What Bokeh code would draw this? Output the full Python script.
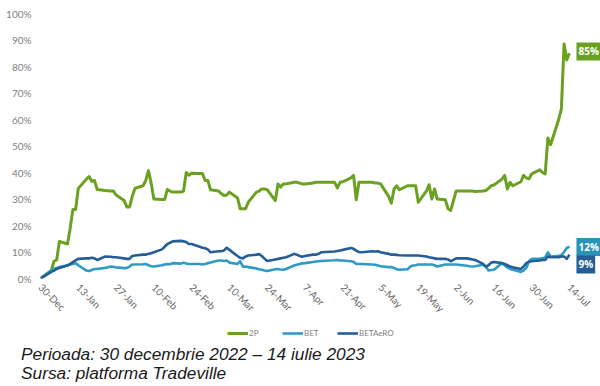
import math
import pandas as pd
from bokeh.plotting import figure
from bokeh.layouts import column
from bokeh.models import (Range1d, FixedTicker, PrintfTickFormatter, Label, Legend, LegendItem, Div)
from bokeh.embed import file_html
from bokeh.resources import INLINE

dates = (["2022-12-30"] +
         ["2023-01-%02d" % d for d in [3, 4, 5, 6, 9, 10, 11, 12, 13, 16, 17, 18, 19, 20, 23, 25, 26, 27, 30, 31]] +
         ["2023-02-%02d" % d for d in [1, 2, 3, 6, 7, 8, 9, 10, 13, 14, 15, 16, 17, 20, 21, 22, 23, 24, 27, 28]] +
         ["2023-03-%02d" % d for d in [1, 2, 3, 6, 7, 8, 9, 10, 13, 14, 15, 16, 17, 20, 21, 22, 23, 24, 27, 28, 29, 30, 31]] +
         ["2023-04-%02d" % d for d in [3, 4, 5, 6, 7, 10, 11, 12, 13, 18, 19, 20, 21, 24, 25, 26, 27, 28]] +
         ["2023-05-%02d" % d for d in [2, 3, 4, 5, 8, 9, 10, 11, 12, 15, 16, 17, 18, 19, 22, 23, 24, 25, 26, 29, 30, 31]] +
         ["2023-06-%02d" % d for d in [2, 6, 7, 8, 9, 12, 13, 14, 15, 16, 19, 20, 21, 22, 23, 26, 27, 28, 29, 30]] +
         ["2023-07-%02d" % d for d in [3, 4, 5, 6, 7, 10, 11, 12, 13, 14]])

p2 = ([0] +
      [3, 6.5, 7, 14, 13, 19, 26, 26, 34, 37.5, 38.5, 36.7, 37, 33.6, 33.2, 33, 33, 31.5, 29.4, 27] +
      [27, 31, 34, 35, 37, 40.7, 36, 30, 29.8, 29.8, 33.6, 33, 32.6, 32.6, 33, 40, 39, 39.7, 39.6, 39.6] +
      [37, 37, 33.5, 33, 32, 31.3, 31.5, 32.6, 30.4, 26.3, 26.3, 26.3, 28.8, 32.6, 33, 33.8, 33.8, 33.5, 29.4, 35.7, 34.5, 35.7, 35.7] +
      [36.3, 36.3, 36, 35.7, 35.7, 36, 36.3, 36.3, 36.3, 36.3, 34.2, 36.3, 36.5, 38, 38.9, 29.7, 36.3, 36.3] +
      [36.3, 36, 36, 35.7, 31, 28.4, 33.8, 35, 33.5, 35, 35, 35, 35, 28.8, 33, 35.4, 30, 33.8, 30, 29.7, 26.3, 25.7] +
      [33, 33, 33, 33, 32.8, 33, 33.2, 34, 35, 35.3, 37.5, 38.9, 33.8, 36.3, 35, 36.5, 38.9, 38, 37.6, 39.5] +
      [41, 40, 39.5, 53, 50.5, 60, 64, 88.5, 82.5, 85])

bet = ([0] +
       [3, 3.6, 4, 4.3, 5, 5.3, 5.5, 5.8, 5, 3, 2.8, 3.2, 3.6, 3.6, 4, 4.5, 4.4, 4.2, 3.9, 4] +
       [4.5, 5.3, 5.3, 5.4, 5.5, 5, 4.6, 4.5, 5, 5.3, 5.5, 5.4, 5.8, 5.6, 6, 5.6, 5.5, 5.5, 5.5, 5.3] +
       [5.5, 5.8, 6, 6.8, 6.8, 6.6, 6.8, 6, 5.5, 6.5, 4.5, 4.5, 4.3, 3.8, 3.5, 3.3, 3, 2.8, 3.5, 3.6, 3.4, 3.3, 3.6] +
       [4.9, 5.2, 5.5, 5.7, 5.8, 6.2, 6.4, 6.5, 6.6, 6.9, 7, 6.8, 6.8, 6.5, 6.3, 5.5, 5.5, 5.5] +
       [5.3, 5.2, 4.9, 4.6, 4.3, 4.3, 4, 3.5, 3.3, 3.5, 4.5, 4.9, 5, 5.3, 5.3, 5.3, 5.3, 5, 4.5, 5.3, 5.3, 5.3] +
       [5.3, 4.8, 4.6, 4.5, 4.6, 5.2, 4.5, 3, 3.2, 3.3, 5.8, 5, 4.2, 3.6, 3.3, 2.5, 3, 4, 6.5, 7.4] +
       [7.5, 7.6, 8, 9.9, 8.3, 8.6, 8.8, 10, 11.5, 12])

betaero = ([0] +
           [2.5, 3, 3.6, 4, 4.9, 5.5, 6.2, 6.8, 7.4, 7.6, 7.6, 7.8, 7.6, 7, 8.3, 8.2, 8, 8, 7.6, 7.4] +
           [7.4, 8.5, 8.7, 9, 9, 9.3, 9.5, 9.9, 11, 12, 13, 13.5, 14, 14.2, 14, 13.8, 13, 13, 12, 11.6] +
           [11.4, 11, 9.9, 10.3, 10.3, 10.6, 11.6, 10.8, 8.5, 7.8, 7.6, 8.3, 8.7, 9, 9.2, 8.5, 7.5, 6.6, 7.2, 7.4, 7.6, 7.8, 8] +
           [9.3, 9, 8.5, 8.2, 8.5, 9, 9, 9.3, 9.9, 10.2, 10.4, 10.6, 10.8, 11.5, 11.2, 10.5, 10, 9.9] +
           [10.3, 10.2, 10.3, 9.9, 9.3, 9, 9, 8.9, 8.8, 8.7, 8.7, 8.7, 8.7, 8.7, 8.3, 8, 7.8, 7.6, 7.4, 7.4, 7.2, 6.5] +
           [7.6, 7.6, 7.4, 7.2, 7, 5.5, 4.5, 5, 6, 6.2, 5.8, 5.5, 5, 4.5, 4.2, 3.6, 4.5, 5.8, 6.3, 6.5] +
           [6.8, 7, 7, 8.3, 8, 8, 8.3, 8.3, 7.4, 9])

tick_dates = ["2022-12-30", "2023-01-13", "2023-01-27", "2023-02-10", "2023-02-24", "2023-03-10",
              "2023-03-24", "2023-04-07", "2023-04-21", "2023-05-05", "2023-05-19", "2023-06-02",
              "2023-06-16", "2023-06-30", "2023-07-14"]
tick_labels = ["30-Dec", "13-Jan", "27-Jan", "10-Feb", "24-Feb", "10-Mar", "24-Mar", "7-Apr",
               "21-Apr", "5-May", "19-May", "2-Jun", "16-Jun", "30-Jun", "14-Jul"]
y_ticks = [0, 10, 20, 30, 40, 50, 60, 70, 80, 90, 100]

series_names = ["2P", "BET", "BETAeRO"]
colors = ["#6AA121", "#2E9BC6", "#255E96"]
end_labels = ["85%", "12%", "9%"]
end_label_y = [85.7, 11.9, 5.3]
label_colors = ["#6AA121", "#2A93B8", "#255E96"]

footer_lines = ["Perioada: 30 decembrie 2022 \u2013 14 iulie 2023", "Sursa: platforma Tradeville"]

x = pd.to_datetime(dates)
tick_ms = [int(pd.Timestamp(d).value // 10**6) for d in tick_dates]
x_end = x[0] + pd.Timedelta(days=207.5)   # room for end labels inside the frame

W = 600
p = figure(width=W, height=323, output_backend="svg", toolbar_location=None,
           x_axis_type="datetime",
           x_range=Range1d(x[0], x_end), y_range=Range1d(0, 100),
           min_border_left=40, min_border_right=0, min_border_top=13, min_border_bottom=45)
p.outline_line_color = None
p.grid.grid_line_color = None

for ax in (p.xaxis, p.yaxis):
    ax.axis_line_color = None
    ax.major_tick_line_color = None
    ax.minor_tick_line_color = None
    ax.major_tick_out = 0
    ax.major_tick_in = 0
    ax.minor_tick_out = 0
    ax.axis_label_standoff = 0
    ax.major_label_text_font = "Lato"
    ax.major_label_text_font_size = "10px"

p.yaxis.ticker = FixedTicker(ticks=y_ticks)
p.yaxis.formatter = PrintfTickFormatter(format="%d%%")
p.yaxis.major_label_text_color = "#7f7f7f"
p.yaxis.major_label_standoff = 9

p.xaxis.ticker = FixedTicker(ticks=tick_ms)
p.xaxis.major_label_overrides = {t: l for t, l in zip(tick_ms, tick_labels)}
p.xaxis.major_label_orientation = -math.pi / 4
p.xaxis.major_label_text_color = "#666666"
p.xaxis.major_label_standoff = 7

for vals, c, w in zip([p2, bet, betaero], colors, [3, 2.6, 2.6]):
    p.line(x, vals, line_color=c, line_width=w, line_join="round")

for txt, yv, c in zip(end_labels, end_label_y, label_colors):
    p.add_layout(Label(x=x[-1], y=yv, x_offset=7, text=txt, text_color="white",
                       text_font="Open Sans", text_font_style="bold", text_font_size="10px",
                       text_baseline="middle", background_fill_color=c, padding=2))

# legend strip
LH = 16
f = figure(width=W, height=LH, output_backend="svg", toolbar_location=None,
           x_range=Range1d(0, 1), y_range=Range1d(0, 1),
           x_axis_location=None, y_axis_location=None,
           min_border_left=0, min_border_right=0, min_border_top=0, min_border_bottom=0)
f.outline_line_color = None
f.grid.grid_line_color = None
dummies = [f.line(x=[5, 6], y=[5, 5], line_color=c, line_width=w) for c, w in zip(colors, [3, 2.6, 2.6])]
legend = Legend(items=[LegendItem(label=n, renderers=[r]) for n, r in zip(series_names, dummies)],
                orientation="horizontal", location=(187, 1),
                border_line_color=None, background_fill_alpha=0,
                label_text_font="Lato", label_text_font_size="8px", label_text_color="#7f7f7f",
                glyph_width=21, glyph_height=8, label_standoff=1, spacing=13, padding=0, margin=0)
f.add_layout(legend, "center")

footer = Div(text="<div style=\"font-family:'Liberation Sans';font-style:italic;font-size:17.3px;"
                  "line-height:19px;color:#1a1a1a;padding:6px 0 0 21px;white-space:nowrap\">"
                  + "<br>".join(footer_lines) + "</div>",
             width=W, height=46, margin=(0, 0, 0, 0))

open("out.html", "w").write(file_html(column(p, f, footer, spacing=0), INLINE))
